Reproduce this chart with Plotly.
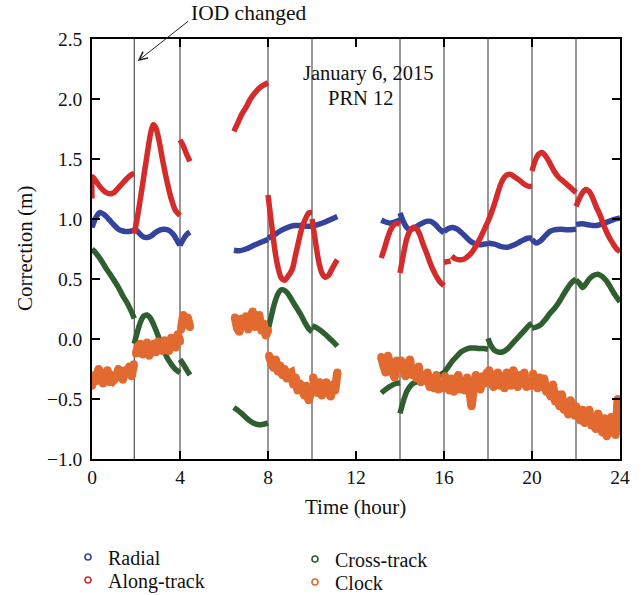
import plotly.graph_objects as go

# Times (hours) at which the issue-of-data changed
IOD_CHANGES = [1.92, 4, 8, 10, 14, 16, 18, 20, 22]

# Orbit corrections, one list of (hour, metres) pairs per IOD segment
RADIAL = [
    [(0.0, 0.93), (0.2, 1.02), (0.36, 1.055), (0.6, 1.03), (0.8, 0.99), (1.0, 0.95), (1.2, 0.915),
     (1.4, 0.90), (1.6, 0.895), (1.8, 0.90), (1.92, 0.905)],
    [(1.92, 0.93), (2.1, 0.89), (2.3, 0.855), (2.5, 0.845), (2.7, 0.86), (2.9, 0.89), (3.1, 0.91),
     (3.3, 0.915), (3.5, 0.905), (3.7, 0.87), (3.9, 0.81), (4.0, 0.78)],
    [(4.0, 0.78), (4.15, 0.83), (4.3, 0.87), (4.45, 0.89)],
    [(6.45, 0.74), (6.7, 0.735), (7.0, 0.75), (7.3, 0.775), (7.6, 0.80), (7.8, 0.815), (8.0, 0.83)],
    [(8.0, 0.84), (8.3, 0.87), (8.6, 0.905), (8.9, 0.93), (9.2, 0.945), (9.5, 0.945), (9.8, 0.94),
     (10.0, 0.94)],
    [(10.0, 0.94), (10.3, 0.955), (10.6, 0.975), (10.9, 1.0), (11.15, 1.02)],
    [(13.15, 0.99), (13.35, 0.975), (13.55, 0.965), (13.75, 0.975), (13.9, 0.985), (14.0, 0.99)],
    [(14.0, 1.05), (14.15, 0.98), (14.3, 0.93), (14.45, 0.91), (14.7, 0.93), (14.95, 0.96),
     (15.2, 0.98), (15.4, 0.98), (15.6, 0.955), (15.8, 0.915), (16.0, 0.885)],
    [(16.0, 0.895), (16.2, 0.92), (16.4, 0.93), (16.6, 0.915), (16.8, 0.885), (17.0, 0.85),
     (17.2, 0.815), (17.4, 0.795), (17.6, 0.785), (17.8, 0.79), (18.0, 0.795)],
    [(18.0, 0.80), (18.3, 0.79), (18.6, 0.77), (18.9, 0.765), (19.2, 0.785), (19.5, 0.815),
     (19.8, 0.84), (20.0, 0.84)],
    [(20.0, 0.83), (20.2, 0.80), (20.4, 0.82), (20.6, 0.86), (20.8, 0.895), (21.0, 0.91),
     (21.3, 0.915), (21.6, 0.91), (22.0, 0.915)],
    [(22.0, 0.955), (22.3, 0.96), (22.6, 0.95), (22.9, 0.945), (23.2, 0.96), (23.5, 0.98),
     (23.8, 1.0), (24.0, 1.01)],
]

ALONG_TRACK = [
    [(0.0, 1.17), (0.03, 1.35), (0.2, 1.31), (0.4, 1.26), (0.6, 1.225), (0.8, 1.21), (1.0, 1.22),
     (1.2, 1.26), (1.4, 1.30), (1.6, 1.34), (1.8, 1.37), (1.92, 1.38)],
    [(1.92, 0.88), (2.05, 1.0), (2.2, 1.17), (2.35, 1.35), (2.5, 1.53), (2.65, 1.70), (2.78, 1.785),
     (2.9, 1.76), (3.05, 1.65), (3.2, 1.50), (3.4, 1.32), (3.6, 1.17), (3.8, 1.07), (4.0, 1.03)],
    [(4.0, 1.66), (4.15, 1.61), (4.3, 1.54), (4.45, 1.48)],
    [(6.45, 1.73), (6.6, 1.79), (6.8, 1.87), (7.0, 1.93), (7.2, 2.0), (7.4, 2.05), (7.6, 2.09),
     (7.8, 2.115), (8.0, 2.135)],
    [(8.0, 1.2), (8.1, 1.05), (8.2, 0.9), (8.33, 0.72), (8.45, 0.6), (8.6, 0.51), (8.75, 0.49),
     (8.9, 0.52), (9.1, 0.58), (9.24, 0.69), (9.4, 0.82), (9.55, 0.93), (9.7, 1.0), (9.85, 1.05),
     (10.0, 1.055)],
    [(10.0, 1.0), (10.1, 0.88), (10.2, 0.76), (10.3, 0.65), (10.45, 0.55), (10.6, 0.515),
     (10.75, 0.53), (10.9, 0.58), (11.05, 0.63), (11.15, 0.66)],
    [(13.15, 0.675), (13.3, 0.76), (13.45, 0.85), (13.6, 0.92), (13.75, 0.955), (13.88, 0.965),
     (14.0, 0.955)],
    [(14.0, 0.55), (14.15, 0.70), (14.3, 0.83), (14.45, 0.90), (14.6, 0.93), (14.75, 0.92),
     (14.9, 0.87), (15.05, 0.79), (15.2, 0.72), (15.4, 0.62), (15.6, 0.54), (15.8, 0.48),
     (16.0, 0.445)],
    [(16.0, 0.64), (16.15, 0.645), (16.3, 0.65)],
    [(16.35, 0.69), (16.5, 0.67), (16.7, 0.66), (16.9, 0.665), (17.1, 0.69), (17.3, 0.73),
     (17.5, 0.79), (17.7, 0.86), (17.85, 0.92), (18.0, 0.98)],
    [(18.0, 0.98), (18.15, 1.05), (18.3, 1.13), (18.45, 1.22), (18.6, 1.30), (18.75, 1.35),
     (18.9, 1.37), (19.05, 1.37), (19.25, 1.345), (19.45, 1.32), (19.65, 1.29), (19.8, 1.275),
     (20.0, 1.27)],
    [(20.0, 1.40), (20.15, 1.49), (20.3, 1.54), (20.45, 1.555), (20.6, 1.53), (20.8, 1.47),
     (21.0, 1.40), (21.2, 1.35), (21.45, 1.31), (21.7, 1.27), (21.85, 1.245), (22.0, 1.22)],
    [(22.0, 1.105), (22.15, 1.17), (22.3, 1.22), (22.45, 1.245), (22.6, 1.23), (22.75, 1.18),
     (22.9, 1.11), (23.1, 1.03), (23.3, 0.93), (23.5, 0.85), (23.7, 0.79), (23.85, 0.75),
     (24.0, 0.73)],
]

CROSS_TRACK = [
    [(0.0, 0.75), (0.2, 0.71), (0.4, 0.66), (0.6, 0.60), (0.8, 0.545), (1.0, 0.49), (1.2, 0.43),
     (1.4, 0.36), (1.6, 0.30), (1.8, 0.225), (1.92, 0.17)],
    [(1.92, -0.04), (2.05, 0.05), (2.2, 0.14), (2.35, 0.19), (2.5, 0.20), (2.65, 0.175), (2.8, 0.12),
     (3.0, 0.03), (3.2, -0.07), (3.4, -0.15), (3.6, -0.21), (3.8, -0.255), (4.0, -0.28)],
    [(4.0, -0.17), (4.15, -0.21), (4.3, -0.255), (4.45, -0.30)],
    [(6.45, -0.57), (6.6, -0.59), (6.8, -0.62), (7.0, -0.655), (7.2, -0.685), (7.4, -0.705),
     (7.6, -0.715), (7.8, -0.71), (8.0, -0.70)],
    [(8.0, 0.07), (8.15, 0.19), (8.3, 0.30), (8.45, 0.375), (8.6, 0.41), (8.75, 0.405), (8.9, 0.38),
     (9.1, 0.32), (9.3, 0.26), (9.5, 0.20), (9.7, 0.13), (9.85, 0.085), (10.0, 0.06)],
    [(10.0, 0.11), (10.2, 0.095), (10.4, 0.07), (10.6, 0.04), (10.8, 0.005), (11.0, -0.03),
     (11.15, -0.06)],
    [(13.15, -0.45), (13.35, -0.42), (13.55, -0.395), (13.75, -0.375), (14.0, -0.365)],
    [(14.0, -0.62), (14.15, -0.52), (14.3, -0.44), (14.45, -0.395), (14.6, -0.37), (14.8, -0.355),
     (15.0, -0.35), (15.2, -0.35), (15.4, -0.345), (15.6, -0.325), (15.8, -0.30), (16.0, -0.28)],
    [(16.0, -0.28), (16.2, -0.23), (16.4, -0.18), (16.6, -0.14), (16.8, -0.105), (17.0, -0.085),
     (17.2, -0.075), (17.4, -0.075), (17.6, -0.08), (17.8, -0.08), (18.0, -0.085)],
    [(18.0, 0.005), (18.15, -0.06), (18.3, -0.095), (18.5, -0.11), (18.7, -0.105), (18.9, -0.08),
     (19.1, -0.04), (19.3, 0.0), (19.5, 0.04), (19.7, 0.08), (19.85, 0.11), (20.0, 0.13)],
    [(20.0, 0.09), (20.2, 0.10), (20.4, 0.12), (20.6, 0.16), (20.8, 0.21), (21.0, 0.25),
     (21.2, 0.30), (21.4, 0.36), (21.6, 0.42), (21.8, 0.47), (22.0, 0.50)],
    [(22.0, 0.49), (22.15, 0.465), (22.3, 0.43), (22.45, 0.46), (22.6, 0.50), (22.8, 0.53),
     (23.0, 0.54), (23.2, 0.52), (23.4, 0.48), (23.6, 0.42), (23.8, 0.36), (24.0, 0.31)],
]

# Clock corrections sampled every CLOCK_STEP hours: (first hour, values) per segment
CLOCK_STEP = 0.1
CLOCK = [
    (0.0, [-0.39, -0.30, -0.35, -0.25, -0.30, -0.37, -0.32, -0.26, -0.36, -0.30, -0.34, -0.32,
           -0.25, -0.30, -0.34, -0.26, -0.29, -0.23, -0.31, -0.21]),
    (2.0, [-0.12, -0.06, -0.04, -0.13, -0.08, -0.03, -0.14, -0.09, -0.04, -0.11, -0.02, -0.07,
           -0.10, -0.01, -0.05, -0.10, 0.01, -0.03, -0.07, 0.04, -0.02]),
    (4.05, [0.08, 0.20, 0.12, 0.18, 0.10]),
    (6.5, [0.18, 0.09, 0.06, 0.17, 0.12, 0.19, 0.08, 0.15, 0.23, 0.10, 0.18, 0.20, 0.07, 0.13,
           0.03, 0.07]),
    (8.05, [-0.14, -0.20, -0.24, -0.17, -0.27, -0.22, -0.30, -0.25, -0.33, -0.29, -0.28, -0.38,
            -0.32, -0.43, -0.37, -0.41, -0.47, -0.39, -0.51, -0.45]),
    (10.05, [-0.32, -0.41, -0.45, -0.36, -0.47, -0.40, -0.36, -0.45, -0.48, -0.38, -0.43, -0.28]),
    (13.15, [-0.15, -0.22, -0.28, -0.14, -0.21, -0.27, -0.32, -0.18, -0.24]),
    (14.05, [-0.18, -0.25, -0.31, -0.21, -0.17, -0.30, -0.26, -0.33, -0.23, -0.36, -0.30, -0.35,
             -0.28, -0.40, -0.33, -0.41, -0.30, -0.42, -0.37, -0.41]),
    (16.05, [-0.31, -0.40, -0.43, -0.33, -0.44, -0.37, -0.30, -0.42, -0.36, -0.43, -0.32, -0.40,
             -0.56, -0.40, -0.30, -0.36, -0.42, -0.31, -0.37, -0.28]),
    (18.05, [-0.26, -0.35, -0.40, -0.30, -0.28, -0.39, -0.34, -0.41, -0.28, -0.36, -0.39, -0.26,
             -0.33, -0.40, -0.30, -0.37, -0.28, -0.40, -0.35, -0.39]),
    (20.05, [-0.29, -0.37, -0.41, -0.32, -0.40, -0.33, -0.44, -0.40, -0.48, -0.38, -0.52, -0.46,
             -0.56, -0.46, -0.59, -0.53, -0.63, -0.51, -0.57, -0.64]),
    (22.0, [-0.56, -0.62, -0.68, -0.59, -0.70, -0.64, -0.59, -0.72, -0.67, -0.75, -0.62, -0.70,
            -0.78, -0.66, -0.81, -0.70, -0.65, -0.76, -0.80, -0.50, -0.76]),
]

NAMES = ["Radial", "Along-track", "Cross-track", "Clock"]
COLORS = ["#34449c", "#d42b2b", "#2f5f30", "#e2692f"]

FONT = "Liberation Serif"
TEXT_COLOR = "#111"
W, H = 643, 595
L, R, T, B = 92, 23, 39, 136


def join_pairs(segments):
    xs, ys = [], []
    for seg in segments:
        for t, v in seg:
            xs.append(t)
            ys.append(v)
        xs.append(None)
        ys.append(None)
    return xs, ys


def join_sampled(segments, step):
    xs, ys = [], []
    for start, vals in segments:
        for i, v in enumerate(vals):
            xs.append(round(start + i * step, 3))
            ys.append(v)
        xs.append(None)
        ys.append(None)
    return xs, ys


fig = go.Figure()

smooth = [RADIAL, ALONG_TRACK, CROSS_TRACK]
for name, color, segs in zip(NAMES[:3], COLORS[:3], smooth):
    x, y = join_pairs(segs)
    fig.add_trace(go.Scatter(x=x, y=y, mode="lines", name=name, showlegend=False,
                             line=dict(color=color, width=5.5, shape="spline", smoothing=0.8)))

# Noisy clock series: a thick jagged band with round dots at each sample
cx, cy = join_sampled(CLOCK, CLOCK_STEP)
fig.add_trace(go.Scatter(x=cx, y=cy, mode="lines+markers", name="Clock", showlegend=False,
                         line=dict(color=COLORS[3], width=8.5, simplify=False),
                         marker=dict(symbol="circle", size=8, color=COLORS[3])))

# Legend entries: small open circles laid out in two columns
legend_ids = ["legend", "legend2", "legend3", "legend4"]
legend_pos = [(90, 557), (90, 580), (317, 559), (317, 582)]
for name, color, lid in zip(NAMES, COLORS, legend_ids):
    fig.add_trace(go.Scatter(x=[None], y=[None], mode="markers", name=name, legend=lid,
                             marker=dict(symbol="circle-open", size=6, color=color,
                                         line=dict(width=1.6, color=color))))

for t in IOD_CHANGES:
    fig.add_vline(x=t, line=dict(color="#2e2e2e", width=1), layer="below")

plot_w = W - L - R
plot_h = H - T - B


def px_x(p):
    return (p - L) / plot_w


def px_y(p):
    return (H - B - p) / plot_h


legends = {}
for lid, (mx, my) in zip(legend_ids, legend_pos):
    legends[lid] = dict(x=(mx - 22) / W, y=1 - my / H, xref="container", yref="container",
                        xanchor="left", yanchor="middle", bgcolor="rgba(0,0,0,0)",
                        font=dict(family=FONT, size=20, color=TEXT_COLOR))

axis_common = dict(showline=True, linecolor="black", linewidth=1.5, mirror="ticks",
                   ticks="inside", ticklen=8, tickwidth=1.5, tickcolor="black",
                   showgrid=False, zeroline=False,
                   tickfont=dict(family=FONT, size=19.5, color=TEXT_COLOR))

fig.update_layout(
    width=W, height=H,
    margin=dict(l=L, r=R, t=T, b=B, autoexpand=False),
    paper_bgcolor="white", plot_bgcolor="white",
    font=dict(family=FONT, size=20, color=TEXT_COLOR),
    xaxis=dict(range=[0, 24], tickmode="array", tickvals=[0, 4, 8, 12, 16, 20, 24],
               ticklabelstandoff=0, **axis_common),
    yaxis=dict(range=[-1.0, 2.5], tickmode="linear", tick0=-1.0, dtick=0.5, tickformat=".1f",
               ticklabelstandoff=4, **axis_common),
    **legends,
)

# Axis titles
fig.add_annotation(text="Time (hour)", x=px_x(355), y=px_y(507), xref="paper", yref="paper",
                   xanchor="center", yanchor="middle", showarrow=False,
                   font=dict(family=FONT, size=21, color=TEXT_COLOR))
fig.add_annotation(text="Correction (m)", x=px_x(25), y=px_y(249), xref="paper", yref="paper",
                   xanchor="center", yanchor="middle", textangle=-90, showarrow=False,
                   font=dict(family=FONT, size=21, color=TEXT_COLOR))

# Date / satellite label and the IOD arrow
fig.add_annotation(text="January 6, 2015", x=px_x(368), y=px_y(73), xref="paper", yref="paper",
                   xanchor="center", yanchor="middle", showarrow=False,
                   font=dict(family=FONT, size=20.5, color=TEXT_COLOR))
fig.add_annotation(text="PRN 12", x=px_x(361), y=px_y(98), xref="paper", yref="paper",
                   xanchor="center", yanchor="middle", showarrow=False,
                   font=dict(family=FONT, size=20.5, color=TEXT_COLOR))
fig.add_annotation(text="IOD changed", x=px_x(248), y=px_y(13), xref="paper", yref="paper",
                   xanchor="center", yanchor="middle", showarrow=False,
                   font=dict(family=FONT, size=21.5, color=TEXT_COLOR))
fig.add_annotation(text="", x=2.08, y=2.317, xref="x", yref="y", ax=52, ay=-41,
                   showarrow=True, arrowhead=5, arrowsize=1.6, arrowwidth=1,
                   arrowcolor="#222", standoff=0, startstandoff=0)

fig.write_html("out.html")
